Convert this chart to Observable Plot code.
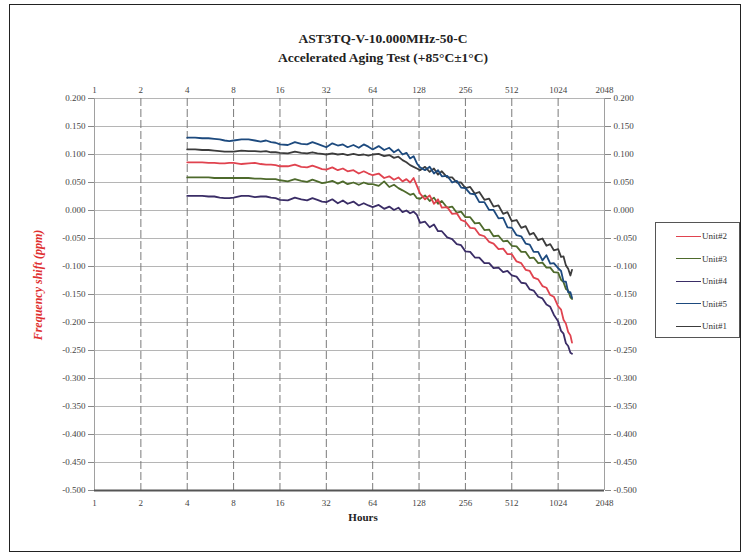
<!DOCTYPE html>
<html>
<head>
<meta charset="utf-8">
<script src="https://cdn.jsdelivr.net/npm/d3@7"></script>
<script src="https://cdn.jsdelivr.net/npm/@observablehq/plot@0.6"></script>
<style>
  body { margin: 0; background: #fff; }
  #wrap { position: relative; width: 742px; height: 556px; overflow: hidden; font-family: "Liberation Serif", serif; }
  #wrap svg { position: absolute; left: 0; top: 0; }
  .frame { position: absolute; left: 9px; top: 4px; width: 732px; height: 548px; box-sizing: border-box; border: 1.5px solid #222; pointer-events: none; }
  .title { position: absolute; left: 383px; transform: translateX(-50%); font-weight: bold; font-size: 13.5px; color: #222; white-space: nowrap; }
  .ylab { position: absolute; left: 38px; top: 285px; transform: translate(-50%, -50%) rotate(-90deg); color: #e03030; font-style: italic; font-weight: bold; font-size: 12px; white-space: nowrap; }
  .xlab { position: absolute; left: 363px; top: 511px; transform: translateX(-50%); font-weight: bold; font-size: 11px; color: #222; }
  .legend { position: absolute; left: 655px; top: 222px; width: 85px; height: 116px; box-sizing: border-box; border: 1px solid #555; background: #fff; }
  .legend .row { position: absolute; left: 20px; height: 12px; display: flex; align-items: center; font-size: 9px; color: #333; }
  .legend .sw { width: 25px; height: 0; border-top: 1.5px solid; margin-right: 1px; }
</style>
</head>
<body>
<div id="wrap"></div>
<script>
const hours = [4,4.5,5,5.5,6,6.5,7,7.5,8, 9,10,11,12,13,14,15,16, 18,20,22,24,26,28,30,32, 35,38,41,44,48,52,56,60,64, 70,76,82,88,94,100,106,112,118,124,130, 140,150,160,170,180,195,210,225,240,256, 275,295,315,340,365,390,420,450,480,512, 550,590,630,670,710,760,810,860,910,960,1024, 1070,1110,1150,1190,1230,1260];

const unit5 = [0.130,0.130,0.129,0.129,0.128,0.127,0.125,0.124,0.125, 0.127,0.127,0.125,0.123,0.125,0.122,0.121,0.118, 0.117,0.122,0.119,0.118,0.122,0.119,0.116,0.113, 0.120,0.116,0.118,0.113,0.117,0.112,0.118,0.114,0.109, 0.115,0.108,0.112,0.104,0.109,0.100,0.103,0.093,0.097,0.084,0.077, 0.072,0.078,0.066,0.072,0.061,0.062,0.050,0.053,0.041,0.040, 0.030,0.029,0.015,0.015,0.001,0.001,-0.014,-0.013,-0.030,-0.031, -0.044,-0.046,-0.059,-0.061,-0.074,-0.074,-0.089,-0.080,-0.095,-0.094,-0.103, -0.108,-0.127,-0.127,-0.146,-0.146,-0.156];

const unit1 = [0.109,0.109,0.108,0.108,0.107,0.106,0.105,0.105,0.105, 0.107,0.106,0.106,0.105,0.106,0.104,0.104,0.103, 0.102,0.105,0.103,0.102,0.104,0.102,0.101,0.100, 0.102,0.100,0.101,0.099,0.101,0.099,0.100,0.098,0.100, 0.101,0.097,0.099,0.094,0.096,0.090,0.086,0.081,0.078,0.075,0.072, 0.078,0.069,0.075,0.064,0.070,0.059,0.059,0.050,0.050,0.040, 0.042,0.030,0.033,0.019,0.021,0.007,0.009,-0.006,-0.003,-0.019, -0.017,-0.031,-0.028,-0.043,-0.040,-0.053,-0.050,-0.063,-0.060,-0.071,-0.069, -0.083,-0.082,-0.098,-0.104,-0.116,-0.106];

const unit2 = [0.086,0.086,0.086,0.085,0.085,0.084,0.084,0.085,0.085, 0.083,0.084,0.085,0.083,0.082,0.082,0.081,0.079, 0.079,0.082,0.078,0.077,0.080,0.077,0.074,0.073, 0.077,0.072,0.075,0.070,0.072,0.066,0.070,0.066,0.063, 0.066,0.058,0.061,0.055,0.059,0.052,0.056,0.050,0.058,0.044,0.030, 0.020,0.027,0.012,0.020,0.005,0.006,-0.006,-0.005,-0.017,-0.020, -0.031,-0.032,-0.043,-0.046,-0.056,-0.059,-0.069,-0.068,-0.078,-0.078, -0.091,-0.094,-0.106,-0.108,-0.120,-0.123,-0.135,-0.138,-0.151,-0.154,-0.171, -0.177,-0.195,-0.202,-0.217,-0.223,-0.236];

const unit3 = [0.059,0.059,0.059,0.059,0.058,0.058,0.058,0.058,0.058, 0.058,0.058,0.057,0.057,0.056,0.056,0.056,0.054, 0.052,0.056,0.053,0.051,0.055,0.052,0.049,0.050, 0.053,0.048,0.052,0.047,0.050,0.046,0.050,0.047,0.047, 0.044,0.052,0.042,0.046,0.040,0.036,0.032,0.028,0.030,0.022,0.021, 0.027,0.017,0.023,0.012,0.017,0.005,0.007,-0.004,-0.002,-0.012, -0.012,-0.023,-0.022,-0.035,-0.034,-0.046,-0.045,-0.055,-0.054,-0.063, -0.064,-0.074,-0.074,-0.085,-0.084,-0.094,-0.093,-0.102,-0.102,-0.110,-0.111, -0.124,-0.128,-0.140,-0.143,-0.155,-0.158];

const unit4 = [0.026,0.026,0.026,0.025,0.025,0.023,0.022,0.022,0.023, 0.026,0.026,0.024,0.025,0.025,0.023,0.022,0.019, 0.018,0.023,0.020,0.018,0.022,0.019,0.016,0.015, 0.020,0.013,0.018,0.012,0.016,0.009,0.013,0.009,0.006, 0.010,0.003,0.007,0.001,0.005,-0.003,0.000,-0.005,-0.002,-0.008,-0.022, -0.020,-0.030,-0.025,-0.037,-0.037,-0.048,-0.051,-0.060,-0.062,-0.073, -0.074,-0.084,-0.084,-0.094,-0.094,-0.103,-0.102,-0.110,-0.108,-0.116, -0.118,-0.129,-0.130,-0.141,-0.143,-0.154,-0.157,-0.168,-0.172,-0.186,-0.198, -0.215,-0.220,-0.237,-0.242,-0.254,-0.256];

const units = ["Unit#2", "Unit#3", "Unit#4", "Unit#5", "Unit#1"];
const unitColors = ["#e0434f", "#4e6a2c", "#3a2d66", "#1d4a7e", "#3c3c3c"];
const seriesValues = [unit2, unit3, unit4, unit5, unit1];
const drawOrder = ["Unit#1", "Unit#4", "Unit#3", "Unit#2", "Unit#5"];

const xTicks = [1, 2, 4, 8, 16, 32, 64, 128, 256, 512, 1024, 2048];
const xInnerTicks = [2, 4, 8, 16, 32, 64, 128, 256, 512, 1024];
const yTicks = [0.2, 0.15, 0.1, 0.05, 0, -0.05, -0.1, -0.15, -0.2, -0.25, -0.3, -0.35, -0.4, -0.45, -0.5];

const titleLines = ["AST3TQ-V-10.000MHz-50-C", "Accelerated Aging Test (+85\u00B0C\u00B11\u00B0C)"];
const yLabel = "Frequency shift (ppm)";
const xLabel = "Hours";

const rows = drawOrder.flatMap(u => {
  const vals = seriesValues[units.indexOf(u)];
  return hours.map((h, j) => ({unit: u, hours: h, shift: vals[j]}));
});

const fmtY = d => d.toFixed(3);

const chart = Plot.plot({
  width: 742,
  height: 556,
  marginLeft: 94,
  marginRight: 138,
  marginTop: 98,
  marginBottom: 66,
  x: {type: "log", base: 2, domain: [1, 2048]},
  y: {domain: [-0.5, 0.2]},
  color: {domain: units, range: unitColors},
  style: {fontFamily: "Liberation Serif", fontSize: "9px", color: "#444", background: "transparent", overflow: "visible"},
  marks: [
    Plot.ruleY(yTicks, {stroke: "#b5b5b5", strokeWidth: 1}),
    Plot.ruleX(xInnerTicks, {stroke: "#7a7a7a", strokeWidth: 1, strokeDasharray: "8,3"}),
    Plot.ruleX([1, 2048], {stroke: "#a0a0a0", strokeWidth: 1}),
    Plot.axisY(yTicks, {anchor: "left", tickSize: 6, tickPadding: 3, tickFormat: fmtY, label: null, stroke: "#888"}),
    Plot.axisY(yTicks, {anchor: "right", tickSize: 6, tickPadding: 3, tickFormat: fmtY, label: null, stroke: "#888"}),
    Plot.axisX(xTicks, {anchor: "top", tickSize: 0, tickPadding: 6, tickFormat: d => String(d), label: null}),
    Plot.axisX(xTicks, {anchor: "bottom", tickSize: 0, tickPadding: 9, tickFormat: d => String(d), label: null}),
    Plot.line(rows, {x: "hours", y: "shift", z: "unit", stroke: "unit", strokeWidth: 1.8, curve: "linear"}),
    Plot.ruleY([-0.5], {stroke: "#555", strokeWidth: 2})
  ]
});

const wrap = document.getElementById("wrap");
wrap.appendChild(chart);

const frame = document.createElement("div");
frame.className = "frame";
wrap.appendChild(frame);

titleLines.forEach((t, i) => {
  const d = document.createElement("div");
  d.className = "title";
  d.style.top = (31 + i * 19) + "px";
  d.textContent = t;
  wrap.appendChild(d);
});

const yl = document.createElement("div");
yl.className = "ylab";
yl.textContent = yLabel;
wrap.appendChild(yl);

const xl = document.createElement("div");
xl.className = "xlab";
xl.textContent = xLabel;
wrap.appendChild(xl);

const legend = document.createElement("div");
legend.className = "legend";
units.forEach((u, i) => {
  const r = document.createElement("div");
  r.className = "row";
  r.style.top = (7 + i * 22.5) + "px";
  const sw = document.createElement("span");
  sw.className = "sw";
  sw.style.borderTopColor = unitColors[i];
  const tx = document.createElement("span");
  tx.textContent = u;
  r.appendChild(sw);
  r.appendChild(tx);
  legend.appendChild(r);
});
wrap.appendChild(legend);
</script>
</body>
</html>
